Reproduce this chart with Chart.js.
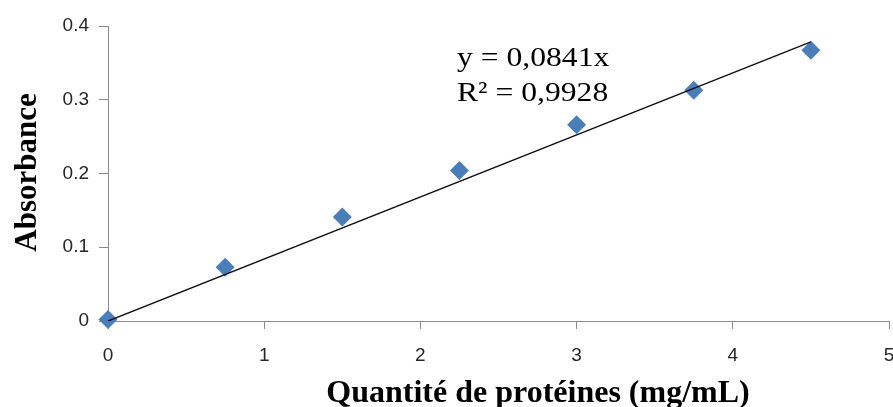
<!DOCTYPE html>
<html lang="fr">
<head>
<meta charset="utf-8">
<title>Courbe d'étalonnage – protéines</title>
<script src="https://cdn.jsdelivr.net/npm/chart.js@4.4.1/dist/chart.umd.min.js"></script>
<style>
  html, body { margin: 0; padding: 0; background: #fff; }
  #wrap { width: 893px; height: 407px; position: relative; }
</style>
</head>
<body>
<div id="wrap"><canvas id="chart"></canvas></div>
<script>
// Standard range: protein quantity (mg/mL) and measured absorbance
const concentrations = [0, 0.75, 1.5, 2.25, 3, 3.75, 4.5];
const absorbances = [0.002, 0.073, 0.141, 0.204, 0.266, 0.313, 0.367];

// Linear trendline forced through the origin
const trendSlope = 0.0841;
const trendR2 = 0.9928;
const trendX = [0, 4.5];

// Axis tick labels
const xTickLabels = ['0', '1', '2', '3', '4', '5'];
const yTickLabels = ['0', '0.1', '0.2', '0.3', '0.4'];

// Text
const xTitle = 'Quantité de protéines (mg/mL)';
const yTitle = 'Absorbance';
const eqLines = [
  'y = ' + trendSlope.toFixed(4).replace('.', ',') + 'x',
  'R\u00B2 = ' + trendR2.toFixed(4).replace('.', ',')
];

const points = concentrations.map((x, i) => ({ x: x, y: absorbances[i] }));
const trendPoints = trendX.map(x => ({ x: x, y: trendSlope * x }));

const AXIS = '#8c8c8c';
const TICK_TEXT = '#262626';
const NO_PADDING = () => ({ left: 0, top: 0, right: 0, bottom: 0 });

// Axis titles and the trendline equation
const textPlugin = {
  id: 'chartText',
  afterDraw(chart) {
    const ctx = chart.ctx;
    const area = chart.chartArea;
    ctx.save();
    ctx.fillStyle = '#000';
    ctx.font = 'bold 32px "Liberation Serif", "Times New Roman", serif';
    ctx.textBaseline = 'alphabetic';
    ctx.textAlign = 'center';
    ctx.fillText(xTitle, area.left + 430, 402);

    ctx.save();
    ctx.translate(36, (area.top + area.bottom) / 2 - 1);
    ctx.rotate(-Math.PI / 2);
    ctx.font = 'bold 31px "Liberation Serif", "Times New Roman", serif';
    ctx.fillText(yTitle, 0, 0);
    ctx.restore();

    // Equation box
    ctx.font = '28px "Liberation Serif", "Times New Roman", serif';
    ctx.textAlign = 'left';
    const ex = 457;
    const baselines = [66, 101];
    eqLines.forEach((line, i) => {
      ctx.save();
      ctx.translate(ex, baselines[i]);
      ctx.scale(1.13, 1);
      ctx.fillText(line, 0, 0);
      ctx.restore();
    });
    ctx.restore();
  }
};

new Chart(document.getElementById('chart'), {
  type: 'scatter',
  data: {
    datasets: [
      {
        label: 'Linéaire',
        type: 'line',
        data: trendPoints,
        borderColor: '#111111',
        borderWidth: 1.5,
        pointRadius: 0,
        fill: false,
        tension: 0
      },
      {
        label: 'Absorbance',
        data: points,
        clip: false,
        pointStyle: 'rectRot',
        pointRadius: 9.5,
        pointHoverRadius: 9.5,
        backgroundColor: '#4a7ebb',
        borderColor: '#4a7ebb',
        borderWidth: 0
      }
    ]
  },
  options: {
    responsive: true,
    maintainAspectRatio: false,
    animation: false,
    devicePixelRatio: 1,
    layout: { autoPadding: false, padding: { top: 26, right: 4, bottom: 0, left: 0 } },
    plugins: {
      legend: { display: false },
      tooltip: { enabled: false },
      title: { display: false }
    },
    scales: {
      x: {
        type: 'linear',
        min: 0,
        max: 5,
        border: { color: AXIS, width: 1 },
        grid: { display: true, drawOnChartArea: false, drawTicks: true, tickLength: 8, color: AXIS },
        ticks: {
          stepSize: 1,
          padding: 15,
          color: TICK_TEXT,
          font: { family: '"Liberation Sans", Arial, sans-serif', size: 19 },
          maxRotation: 0,
          callback: (v) => xTickLabels[Math.round(v)]
        },
        afterFit(scale) {
          scale.height = 86;
          scale.paddingLeft = 0;
          scale.paddingRight = 0;
          scale.getPadding = NO_PADDING;
        }
      },
      y: {
        type: 'linear',
        min: 0,
        max: 0.4,
        border: { color: AXIS, width: 1 },
        grid: { display: true, drawOnChartArea: false, drawTicks: true, tickLength: 9, color: AXIS },
        ticks: {
          stepSize: 0.1,
          padding: 10,
          color: TICK_TEXT,
          font: { family: '"Liberation Sans", Arial, sans-serif', size: 19 },
          callback: (v) => yTickLabels[Math.round(v * 10)]
        },
        afterFit(scale) {
          scale.width = 108;
          scale.paddingTop = 0;
          scale.paddingBottom = 0;
          scale.getPadding = NO_PADDING;
        }
      }
    }
  },
  plugins: [textPlugin]
});
</script>
</body>
</html>
